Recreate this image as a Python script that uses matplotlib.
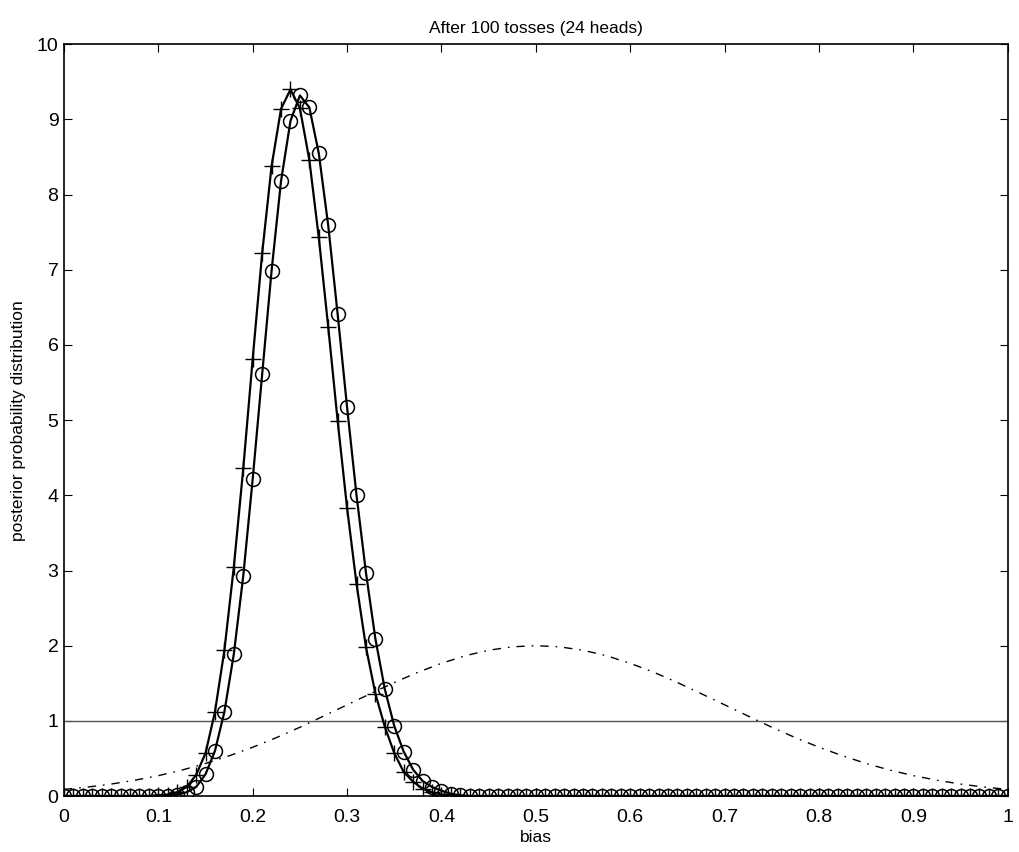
import numpy as np
import matplotlib
matplotlib.use('Agg')
import matplotlib.pyplot as plt

plt.rcParams['font.family'] = ['Liberation Sans', 'DejaVu Sans']

# bias grid used by the plotted curves
bias = np.round(np.arange(0, 101) * 0.01, 2)

# posterior with flat prior (+ markers), non-zero part starting at bias 0.10
flat_start = 10
post_flat_peak = [0.01, 0.02, 0.05, 0.12, 0.28, 0.57, 1.12, 1.94, 3.05, 4.36,
                  5.82, 7.22, 8.38, 9.14, 9.40, 9.15, 8.46, 7.43, 6.24, 4.99,
                  3.83, 2.82, 1.98, 1.36, 0.92, 0.57, 0.32, 0.19, 0.10, 0.05,
                  0.02, 0.01, 0.0]

# posterior with gaussian prior (o markers), non-zero part starting at bias 0.12
gauss_start = 12
post_gauss_peak = [0.02, 0.05, 0.12, 0.29, 0.60, 1.12, 1.89, 2.93, 4.22, 5.61,
                   6.99, 8.18, 8.98, 9.32, 9.16, 8.55, 7.59, 6.41, 5.17, 4.00,
                   2.97, 2.09, 1.42, 0.93, 0.59, 0.35, 0.20, 0.12, 0.07, 0.03,
                   0.01]

# gaussian prior (dash-dot), read every 0.025
prior_x = np.round(np.arange(0, 41) * 0.025, 3)
prior_gauss = [0.088, 0.119, 0.159, 0.210, 0.271, 0.345, 0.433, 0.535, 0.649, 0.776,
               0.915, 1.063, 1.213, 1.363, 1.510, 1.646, 1.765, 1.866, 1.939, 1.985,
               2.000, 1.985, 1.939, 1.866, 1.765, 1.646, 1.510, 1.363, 1.213, 1.063,
               0.915, 0.776, 0.649, 0.535, 0.433, 0.345, 0.271, 0.210, 0.159, 0.119,
               0.088]

# flat prior
prior_flat_x = [0, 1]
prior_flat = [1, 1]

post_flat = np.zeros(len(bias))
post_flat[flat_start:flat_start + len(post_flat_peak)] = post_flat_peak
post_gauss = np.zeros(len(bias))
post_gauss[gauss_start:gauss_start + len(post_gauss_peak)] = post_gauss_peak

fig = plt.figure(figsize=(10.2, 8.52), dpi=100)
ax = fig.add_axes([0.0627, 0.0657, 0.9253, 0.8823])

ax.plot(prior_flat_x, prior_flat, '-', color='#555555', lw=1.0)
ax.plot(prior_x, prior_gauss, color='black', lw=1.0, dashes=[6, 5, 1.2, 5])
ax.plot(bias, post_flat, '-', color='black', lw=1.6,
        marker='+', ms=12, mew=1.0)
ax.plot(bias, post_gauss, '-', color='black', lw=1.6,
        marker='o', ms=10, mfc='none', mew=1.1)

ax.set_xlim(0, 1)
ax.set_ylim(0, 10)
ax.set_xticks(np.round(np.arange(0, 11) * 0.1, 1))
ax.set_xticklabels(['0', '0.1', '0.2', '0.3', '0.4', '0.5', '0.6', '0.7', '0.8', '0.9', '1'])
ax.set_yticks(range(0, 11))
ax.tick_params(direction='in', top=True, right=True, length=6, labelsize=14, pad=4)
ax.tick_params(axis='x', pad=9)
for s in ax.spines.values():
    s.set_linewidth(1.2)

ax.set_title('After 100 tosses (24 heads)', fontsize=12.5, pad=8)
ax.set_xlabel('bias', fontsize=12.5, labelpad=3)
ax.set_ylabel('posterior probability distribution', fontsize=12.5, labelpad=8)

fig.savefig('out.png', dpi=100)
